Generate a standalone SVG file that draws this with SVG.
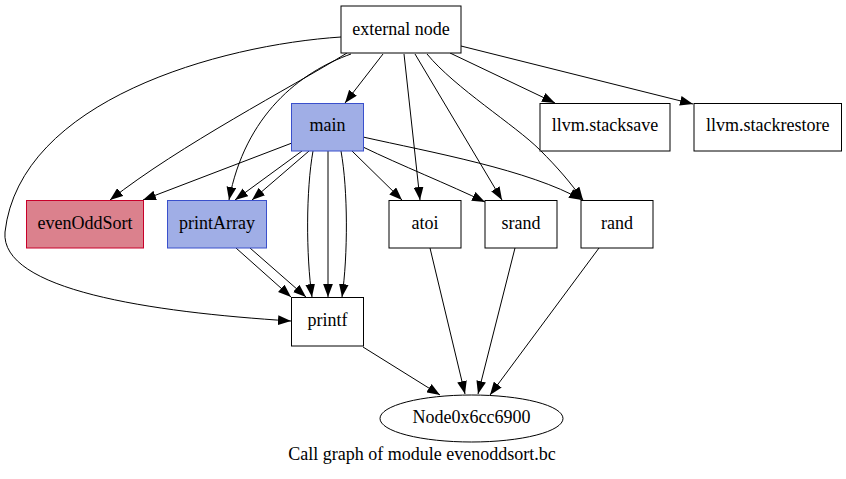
<svg xmlns="http://www.w3.org/2000/svg" width="846" height="479" viewBox="0 0 846 479">
<style>
.n{fill:#ffffff;stroke:#000000;stroke-width:1}
.blue{fill:#a0aee6;stroke:#3a50cc;stroke-width:1}
.red{fill:#db818d;stroke:#c8002a;stroke-width:1}
.e{fill:none;stroke:#000000;stroke-width:1;marker-end:url(#ah)}
.t{font-family:'Liberation Serif','Times New Roman',serif;font-size:18px;text-anchor:middle;fill:#000000}
</style>
<defs>
<marker id="ah" markerUnits="userSpaceOnUse" markerWidth="13" markerHeight="10" viewBox="0 0 12 9" refX="12" refY="4.5" orient="auto">
<path d="M0,0 L12,4.5 L0,9 z" fill="#000000"/>
</marker>
</defs>
<rect width="846" height="479" fill="#ffffff"/>
<g id="connectors">
<path class="e" d="M347,53 C290,88 180,145 110,200"/>
<path class="e" d="M351,54 C300,72 245,115 229,200"/>
<path class="e" d="M341,37 C220,45 20,100 5,232 C0,290 150,312 291,321"/>
<path class="e" d="M383,54 L345,103"/>
<path class="e" d="M404,54 L420,200"/>
<path class="e" d="M415,54 L502,200"/>
<path class="e" d="M427,54 C455,88 515,125 540,150 C558,168 570,182 583,200"/>
<path class="e" d="M450,53 L555,103"/>
<path class="e" d="M461,46 L693,104"/>
<path class="e" d="M292,143 L143,200"/>
<path class="e" d="M302,151 L235,200"/>
<path class="e" d="M309,151 L252,200"/>
<path class="e" d="M313,151 C306,190 306,255 312,297"/>
<path class="e" d="M328,151 L328,297"/>
<path class="e" d="M341,151 C348,190 348,255 342,297"/>
<path class="e" d="M352,151 L402,200"/>
<path class="e" d="M363,147 C400,165 450,185 485,202"/>
<path class="e" d="M363,137 C430,152 530,170 582,200"/>
<path class="e" d="M236,248 L291,297"/>
<path class="e" d="M250,248 L306,297"/>
<path class="e" d="M430,248 L465,394"/>
<path class="e" d="M515,248 L478,394"/>
<path class="e" d="M599,248 L490,395"/>
<path class="e" d="M363,347 L440,395"/>
</g>
<g id="node-external"><rect class="n" x="341" y="6" width="120" height="47"/><text class="t" x="401" y="35" style="font-family:'Liberation Serif',serif">external node</text></g>
<g id="node-main"><rect class="blue" x="291.5" y="103.5" width="72" height="47.5"/><text class="t" x="327.5" y="131" style="font-family:'Liberation Serif',serif">main</text></g>
<g id="node-stacksave"><rect class="n" x="540" y="103.5" width="130" height="47.5"/><text class="t" x="605" y="131" style="font-family:'Liberation Serif',serif">llvm.stacksave</text></g>
<g id="node-stackrestore"><rect class="n" x="694" y="103.5" width="147.5" height="47.5"/><text class="t" x="767.75" y="131" style="font-family:'Liberation Serif',serif">llvm.stackrestore</text></g>
<g id="node-evenOddSort"><rect class="red" x="26.5" y="200.5" width="117" height="47.5"/><text class="t" x="85" y="229" style="font-family:'Liberation Serif',serif">evenOddSort</text></g>
<g id="node-printArray"><rect class="blue" x="167.5" y="200.5" width="99" height="47.5"/><text class="t" x="217" y="229" style="font-family:'Liberation Serif',serif">printArray</text></g>
<g id="node-atoi"><rect class="n" x="389" y="200.5" width="72" height="47.5"/><text class="t" x="425" y="229" style="font-family:'Liberation Serif',serif">atoi</text></g>
<g id="node-srand"><rect class="n" x="485" y="200.5" width="72" height="47.5"/><text class="t" x="521" y="229" style="font-family:'Liberation Serif',serif">srand</text></g>
<g id="node-rand"><rect class="n" x="581" y="200.5" width="72" height="47.5"/><text class="t" x="617" y="229" style="font-family:'Liberation Serif',serif">rand</text></g>
<g id="node-printf"><rect class="n" x="291.5" y="297.5" width="72" height="48.5"/><text class="t" x="327.5" y="326" style="font-family:'Liberation Serif',serif">printf</text></g>
<g id="node-null"><ellipse class="n" cx="471.5" cy="418.5" rx="91.5" ry="23.5"/><text class="t" x="471.5" y="423" style="font-family:'Liberation Serif',serif">Node0x6cc6900</text></g>
<text class="t" x="422" y="460" style="font-family:'Liberation Serif',serif">Call graph of module evenoddsort.bc</text>
</svg>
